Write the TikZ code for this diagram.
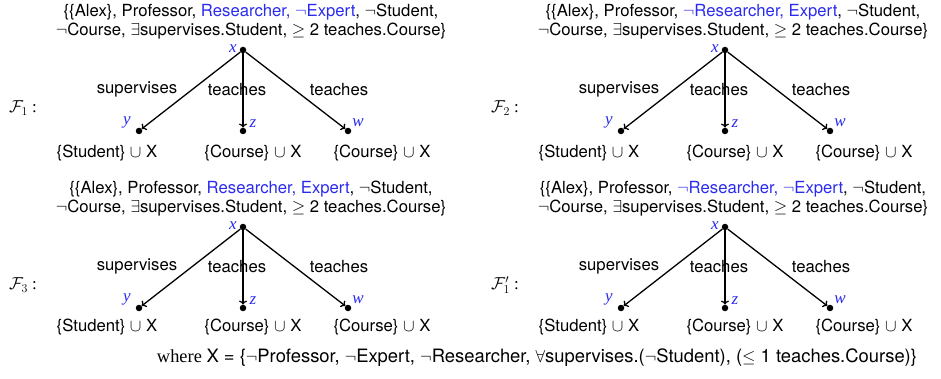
\documentclass[tikz,border=0pt]{standalone}
\usepackage{fontspec}
\setmainfont{Liberation Serif}
\newfontfamily\helv{TeX Gyre Heros}
\usetikzlibrary{positioning,arrows.meta}
\definecolor{hl}{HTML}{2B2BEE}
\tikzset{
  txt/.style={font=\fontsize{16.7}{19}\selectfont\helv,align=center,inner sep=0pt},
  var/.style={font=\fontsize{17}{19}\selectfont\itshape,text=hl,inner sep=0pt},
  dot/.style={circle,fill=black,inner sep=0pt,minimum size=6.5pt},
  edge/.style={-{To[length=4pt,width=8pt]},line width=1.3pt}}

\begin{document}
\begin{tikzpicture}[x=1pt,y=-1pt]
  \useasboundingbox (0,0) rectangle (941,379);
  % four completion forests, same tree, different choices at x
  \foreach \dx/\dy/\by/\lab/\hi [count=\i] in {0/0/153/{\mathcal{F}_1}/{Researcher, $\neg$Expert},
      482/0/153/{\mathcal{F}_2}/{$\neg$Researcher, Expert},
      0/177/150/{\mathcal{F}_3}/{Researcher, Expert},
      482/177/150/{\mathcal{F}'_1}/{$\neg$Researcher, $\neg$Expert}}{
    \begin{scope}[shift={(\dx,\dy)}]
      \node[txt] (top\i) at (251,22) {\{\{Alex\}, Professor, \textcolor{hl}{\hi}, $\neg$Student,\\
        $\neg$Course, $\exists$supervises.Student, $\geq$ 2 teaches.Course\}};
      \node[dot] (x\i) at (243,50) {};
      \node[dot] (y\i) at (139,131) {};
      \node[dot] (z\i) at (243,131) {};
      \node[dot] (w\i) at (348,131) {};
      \node[var] (lx\i) at (233,49) {x};
      \node[var] (ly\i) at (127,122) {y};
      \node[var] (lz\i) at (253,124) {z};
      \node[var] (lw\i) at (358,123) {w};
      \draw[edge] (x\i) -- (y\i);
      \draw[edge] (x\i) -- (z\i);
      \draw[edge] (x\i) -- (w\i);
      \node[txt] (s\i) at (137,89) {supervises};
      \node[txt] (t\i) at (237,90) {teaches};
      \node[txt] (u\i) at (339,90) {teaches};
      \node[txt] (by\i) at (107,\by) {\{Student\} $\cup$ X};
      \node[txt] (bz\i) at (253,\by) {\{Course\} $\cup$ X};
      \node[txt] (bw\i) at (382,\by) {\{Course\} $\cup$ X};
      \node[font=\fontsize{17}{19}\selectfont] (f\i) at (23,108) {$\lab$ :};
    \end{scope}}
  \node[font=\fontsize{18.4}{20}\selectfont] (where) at (537,358) {where {\helv X = \{$\neg$Professor, $\neg$Expert, $\neg$Researcher, $\forall$supervises.($\neg$Student), ($\leq$ 1 teaches.Course)\}}};
\end{tikzpicture}
\end{document}
